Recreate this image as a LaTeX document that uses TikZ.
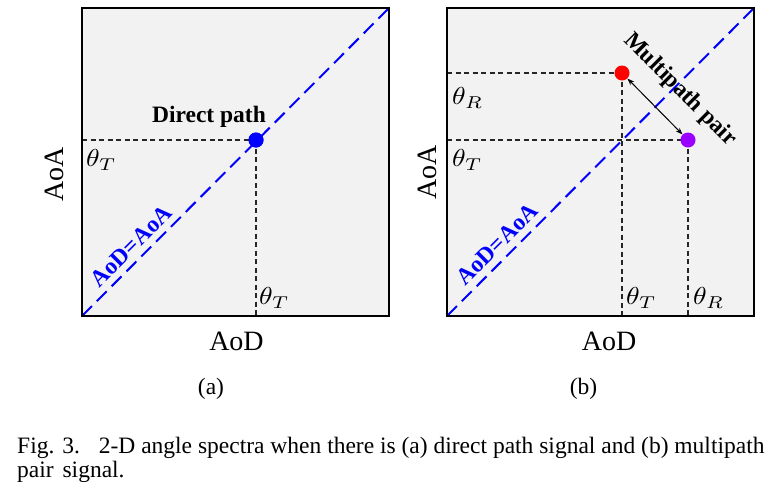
\documentclass[tikz,border=0pt]{standalone}
\usepackage{fontspec}
\setmainfont{Liberation Serif}
\usetikzlibrary{arrows.meta}
\definecolor{panelgray}{RGB}{242,242,242}
\definecolor{dotpurple}{RGB}{153,0,255}
\newcommand{\bigth}[1]{\scalebox{2.75}[2.45]{$\theta_{#1}$}}
\begin{document}
\begin{tikzpicture}[x=1pt,y=-1pt,
  panelfill/.style={fill=panelgray},
  panelframe/.style={draw=black,line width=2.3pt},
  diag/.style={draw=blue,line width=2pt,dash pattern=on 14pt off 7pt},
  guide/.style={draw=black!85,line width=1.1pt,dash pattern=on 5pt off 3.5pt},
  dot/.style={circle,inner sep=0pt,minimum size=15pt},
  axislbl/.style={font=\fontsize{28}{32}\selectfont,inner sep=0pt},
  thetalbl/.style={inner sep=0pt},
  boldlbl/.style={font=\fontsize{23.5}{27}\selectfont\bfseries,inner sep=0pt},
  difflbl/.style={boldlbl,text=blue},
  sublbl/.style={font=\fontsize{23.5}{28}\selectfont,inner sep=0pt},
  pairarrow/.style={{Stealth[length=7pt,width=5pt]}-{Stealth[length=7pt,width=5pt]},line width=1pt}
]
\useasboundingbox (0,0) rectangle (778,496);
\fill[white] (0,0) rectangle (778,496);

% ---------------- panel (a) ----------------
\coordinate (aSW) at (82,316);
\coordinate (aNE) at (389,8);
\fill[panelfill] (aSW) rectangle (aNE);
\draw[diag] (aSW) -- (aNE);
\node[dot,fill=blue] (dA) at (256,140) {};
\coordinate (aL) at (82,140);
\coordinate (aB) at (256,316);
\draw[guide] (aL) -- (dA.center);
\draw[guide] (dA.center) -- (aB);
\node[dot,fill=blue] (dA2) at (256,140) {};
\draw[panelframe] (aSW) rectangle (aNE);

\node[boldlbl] (direct) at (209,117) {Direct path};
\node[thetalbl,anchor=west] (aTL) at (86,160) {\bigth{T}};
\node[thetalbl,anchor=west] (aTB) at (259,298) {\bigth{T}};
\node[difflbl,rotate=45] (aEq) at (131,246) {AoD=AoA};
\node[axislbl,anchor=base] (aAoD) at (236.5,350) {AoD};
\node[axislbl,anchor=base,rotate=90] (aAoA) at (63,174) {AoA};
\node[sublbl,anchor=base] (capa) at (211,394) {(a)};

% ---------------- panel (b) ----------------
\coordinate (bSW) at (447,316);
\coordinate (bNE) at (754,8);
\fill[panelfill] (bSW) rectangle (bNE);
\draw[diag] (bSW) -- (bNE);
\node[dot] (dR) at (622,73) {};
\node[dot] (dP) at (688,140) {};
\coordinate (bLR) at (447,73);
\coordinate (bLT) at (447,140);
\coordinate (bBT) at (622,316);
\coordinate (bBR) at (688,316);
\draw[guide] (bLR) -- (dR.center);
\draw[guide] (dR.center) -- (bBT);
\draw[guide] (bLT) -- (dP.center);
\draw[guide] (dP.center) -- (bBR);
\node[dot,fill=red] (dR2) at (622,73) {};
\node[dot,fill=dotpurple] (dP2) at (688,140) {};
\draw[pairarrow] (dR2) -- (dP2);
\draw[panelframe] (bSW) rectangle (bNE);

\node[boldlbl,rotate=-45] (mp) at (680,90) {Multipath pair};
\node[thetalbl,anchor=west] (bRL) at (452,98) {\bigth{R}};
\node[thetalbl,anchor=west] (bTL) at (452,160) {\bigth{T}};
\node[thetalbl,anchor=west] (bTB) at (626,298) {\bigth{T}};
\node[thetalbl,anchor=west] (bRB) at (693,298) {\bigth{R}};
\node[difflbl,rotate=45] (bEq) at (497,244) {AoD=AoA};
\node[axislbl,anchor=base] (bAoD) at (609,350) {AoD};
\node[axislbl,anchor=base,rotate=90] (bAoA) at (436,172.5) {AoA};
\node[sublbl,anchor=base] (capb) at (583.5,394) {(b)};

% ---------------- caption ----------------
\node[sublbl,anchor=base west] (cap1) at (17,453) {Fig. 3.\hspace{19pt}2-D angle spectra when there is (a) direct path signal and (b) multipath};
\node[sublbl,anchor=base west] (cap2) at (17,477) {pair\hspace{3pt} signal.};
\end{tikzpicture}
\end{document}
